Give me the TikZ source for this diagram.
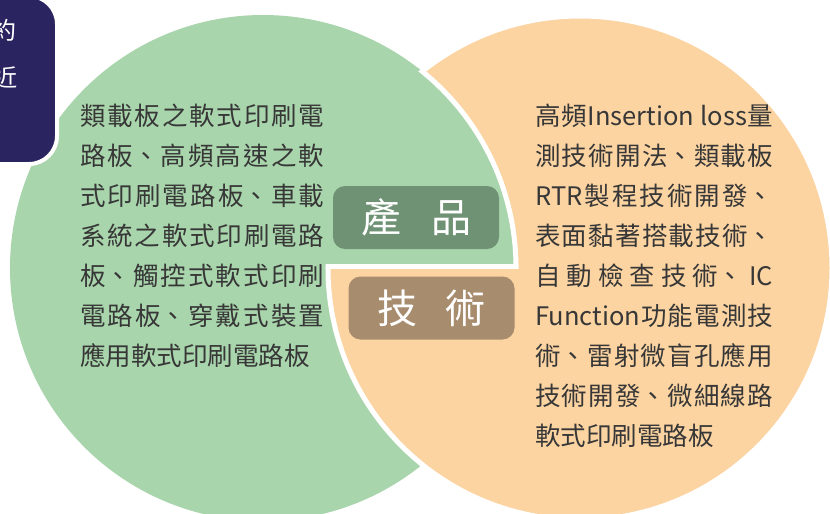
\documentclass[tikz,border=0pt]{standalone}
\usepackage{fontspec}
\setmainfont{Noto Sans CJK TC}
\XeTeXlinebreaklocale "zh"
\XeTeXlinebreakskip=0pt plus 4pt
\definecolor{circgreen}{RGB}{169,213,172}
\definecolor{circpeach}{RGB}{252,212,162}
\definecolor{prodgreen}{RGB}{110,146,115}
\definecolor{techbrown}{RGB}{168,140,110}
\definecolor{navy}{RGB}{42,37,96}
\definecolor{textgray}{RGB}{55,55,55}
\tikzset{
  gap/.style={white, line width=5pt},
  bodytext/.style={inner sep=0pt, text=textgray, anchor=base west,
    font=\fontsize{25.5pt}{40pt}\selectfont},
  labelbox/.style={rounded corners=12pt, minimum width=166pt, minimum height=63pt,
    inner sep=0pt, text=white, font=\fontsize{40pt}{40pt}\selectfont},
  cuttext/.style={inner sep=0pt, text=white, font=\fontsize{24pt}{24pt}\selectfont}
}
\begin{document}
\begin{tikzpicture}[x=1pt,y=-1pt]
\useasboundingbox (0,0) rectangle (830,514);
\coordinate (G) at (263,268);
\coordinate (P) at (580,268);
% green circle
\fill[circgreen] (G) circle (253pt);
% peach circle over it, with white edge
\fill[circpeach] (P) circle (252pt);
\draw[gap] (P) circle (252pt);
% upper part of green circle over the peach one
\begin{scope}
  \clip (P) circle (257pt);
  \clip (-10,-10) rectangle (840,266);
  \fill[circgreen] (G) circle (253pt);
\end{scope}
\begin{scope}
  \clip (P) circle (254.5pt);
  \clip (-10,-10) rectangle (840,266);
  \draw[gap] (G) circle (253pt);
\end{scope}
\begin{scope}
  \clip (P) circle (254.5pt);
  \clip (G) circle (255.5pt);
  \coordinate (chordL) at (0,266);
  \coordinate (chordR) at (830,266);
  \draw[gap] (chordL) -- (chordR);
\end{scope}
% dark box at top left
\filldraw[fill=navy, draw=white, line width=4pt, rounded corners=28pt] (-40,-4) rectangle (57,164);
\node[cuttext] (yue) at (5,30) {約};
\node[cuttext] (jin) at (6,77) {近};
% texts
\node[bodytext] (ltext) at (80,125) {\parbox[t]{244pt}{\tolerance=10000\hbadness=10000
類載板之軟式印刷電\linebreak
路板、高頻高速之軟\linebreak
式印刷電路板、車載\linebreak
系統之軟式印刷電路\linebreak
板、觸控式軟式印刷\linebreak
電路板、穿戴式裝置\linebreak
應用軟式印刷電路板}};
\node[bodytext] (rtext) at (535,125) {\parbox[t]{238pt}{\tolerance=10000\hbadness=10000
高頻Insertion loss量\linebreak
測技術開法、類載板\linebreak
RTR製程技術開發、\linebreak
表面黏著搭載技術、\linebreak
自動檢查技術、IC\linebreak
Function功能電測技\linebreak
術、雷射微盲孔應用\linebreak
技術開發、微細線路\linebreak
軟式印刷電路板}};
% labels
\node[labelbox, fill=prodgreen] (prod) at (416,217.5) {產\hspace{30pt}品};
\node[labelbox, fill=techbrown] (tech) at (431.5,308) {技\hspace{28pt}術};
\end{tikzpicture}
\end{document}
